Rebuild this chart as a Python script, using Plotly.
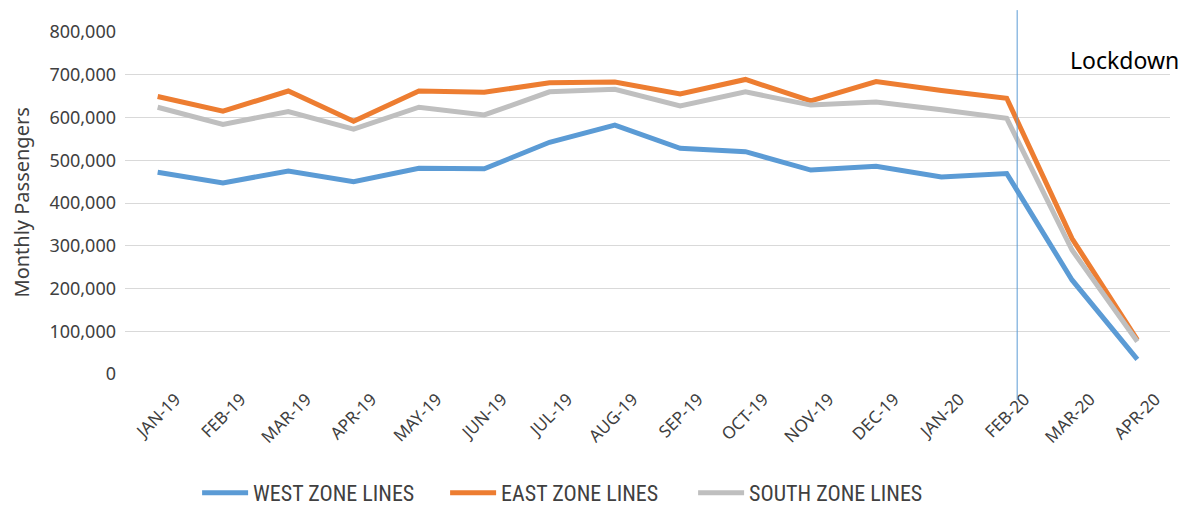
import plotly.graph_objects as go

months = ["JAN-19", "FEB-19", "MAR-19", "APR-19", "MAY-19", "JUN-19", "JUL-19", "AUG-19",
          "SEP-19", "OCT-19", "NOV-19", "DEC-19", "JAN-20", "FEB-20", "MAR-20", "APR-20"]

west = [472000, 447000, 475000, 450000, 481000, 480000, 542000, 582000,
        528000, 520000, 477000, 486000, 461000, 469000, 220000, 34000]
east = [649000, 615000, 662000, 591000, 662000, 659000, 681000, 683000,
        655000, 689000, 639000, 684000, 663000, 645000, 317000, 80000]
south = [624000, 584000, 614000, 573000, 624000, 606000, 660000, 666000,
         627000, 660000, 629000, 636000, 618000, 598000, 290000, 76000]

lockdown_pos = 13.16  # just after FEB-20

fig = go.Figure()
fig.add_trace(go.Scatter(x=months, y=west, name="WEST ZONE LINES", mode="lines",
                         line=dict(color="#5B9BD5", width=5)))
fig.add_trace(go.Scatter(x=months, y=east, name="EAST ZONE LINES", mode="lines",
                         line=dict(color="#ED7D31", width=5)))
fig.add_trace(go.Scatter(x=months, y=south, name="SOUTH ZONE LINES", mode="lines",
                         line=dict(color="#BFBFBF", width=5)))

fig.add_shape(type="line", xref="x", yref="paper", x0=lockdown_pos, x1=lockdown_pos,
              y0=-0.076, y1=1.064, line=dict(color="#5B9BD5", width=1))

fig.add_annotation(text="Lockdown", xref="paper", yref="paper", x=0.902, y=0.918,
                   xanchor="left", yanchor="middle", showarrow=False,
                   font=dict(size=23, color="#000000", family="Noto Sans"))

# y axis title placed further left, like the original
fig.add_annotation(text="Monthly Passengers", xref="paper", yref="paper", x=-0.1, y=0.5,
                   xanchor="center", yanchor="middle", textangle=-90, showarrow=False,
                   font=dict(size=20, color="#404040", family="Noto Sans"))

fig.update_layout(
    width=1189, height=505,
    margin=dict(l=117, r=27, t=24, b=139, autoexpand=False),
    paper_bgcolor="white", plot_bgcolor="white",
    font=dict(family="Noto Sans", color="#404040"),
    showlegend=True,
    legend=dict(orientation="h", x=0.069, xanchor="left", y=-0.348, yanchor="middle",
                font=dict(size=22, family="Liberation Sans Narrow, Roboto Condensed, Noto Sans",
                          color="#404040"),
                itemwidth=46, entrywidth=187, entrywidthmode="pixels", tracegroupgap=0),
)
fig.update_xaxes(type="category", tickangle=-45, showgrid=False, showline=False,
                 ticks="", tickfont=dict(size=17, color="#404040"),
                 ticklabelshift=18, ticklabelstandoff=11,
                 range=[-0.5, 15.5], automargin=False)
fig.update_yaxes(range=[0, 800000], dtick=100000, tickformat=",d",
                 showgrid=True, gridcolor="#D9D9D9", gridwidth=1, zeroline=False,
                 showline=False, ticks="", tickfont=dict(size=18, color="#404040"),
                 automargin=False, ticklabelstandoff=8)

fig.write_html("out.html")
